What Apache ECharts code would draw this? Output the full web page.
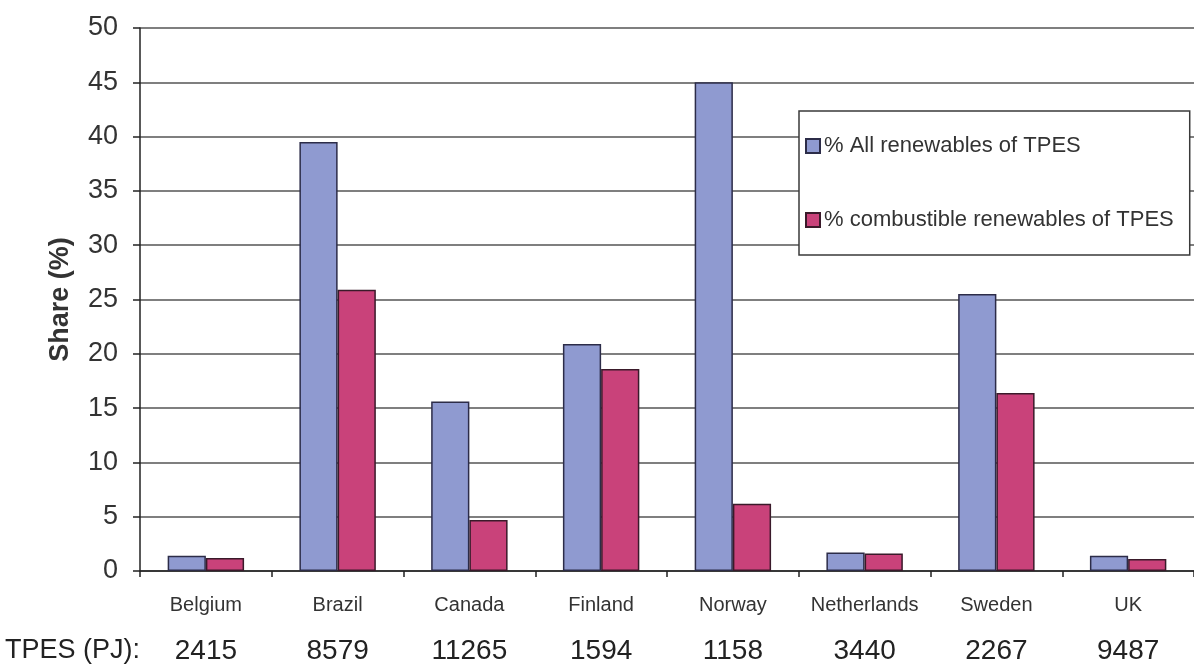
<!DOCTYPE html>
<html>
<head>
<meta charset="utf-8">
<script src="https://cdn.jsdelivr.net/npm/echarts@6/dist/echarts.min.js"></script>
<style>
  html, body { margin: 0; padding: 0; background: #fff; }
  #chart { width: 1194px; height: 666px; }
</style>
</head>
<body>
<div id="chart"></div>
<script>
// Renewable shares of total primary energy supply, by country
const categories = ['Belgium', 'Brazil', 'Canada', 'Finland', 'Norway', 'Netherlands', 'Sweden', 'UK'];
const allRenewables = [1.4, 39.5, 15.6, 20.9, 45.0, 1.7, 25.5, 1.4];
const combustibleRenewables = [1.2, 25.9, 4.7, 18.6, 6.2, 1.6, 16.4, 1.1];
const tpesPJ = ['2415', '8579', '11265', '1594', '1158', '3440', '2267', '9487'];
const yTicks = [0, 5, 10, 15, 20, 25, 30, 35, 40, 45, 50];

const seriesNames = ['% All renewables of TPES', '% combustible renewables of TPES'];
const font = '"Liberation Sans", Arial, sans-serif';

const chart = echarts.init(document.getElementById('chart'), null, { renderer: 'canvas' });

chart.setOption({
  animation: false,
  backgroundColor: '#ffffff',
  textStyle: { fontFamily: font },
  grid: { left: 140, top: 28, right: -4, bottom: 95, containLabel: false },
  legend: {
    orient: 'vertical',
    left: 799,
    top: 111,
    data: seriesNames,
    backgroundColor: '#ffffff',
    borderColor: '#3a3a3a',
    borderWidth: 1.5,
    borderRadius: 0,
    padding: [24, 16, 24, 6],
    itemGap: 52,
    itemWidth: 14,
    itemHeight: 14,
    icon: 'rect',
    textStyle: { fontSize: 22, color: '#333', fontFamily: font, padding: [0, 0, 0, -1] }
  },
  xAxis: {
    type: 'category',
    data: categories,
    boundaryGap: true,
    axisLine: { show: true, lineStyle: { color: '#222', width: 1.5 } },
    axisTick: { show: true, alignWithLabel: false, length: 6, lineStyle: { color: '#222', width: 1.5 } },
    axisLabel: {
      margin: 16,
      interval: 0,
      formatter: (v, i) => `{c|${v}}\n{t|${tpesPJ[i]}}`,
      rich: {
        c: { fontSize: 20, lineHeight: 36, color: '#333', fontFamily: font },
        t: { fontSize: 28, lineHeight: 56, color: '#222', fontFamily: font }
      }
    }
  },
  yAxis: {
    type: 'value',
    min: yTicks[0],
    max: yTicks[yTicks.length - 1],
    interval: 5,
    name: 'Share (%)',
    nameLocation: 'middle',
    nameGap: 66,
    nameRotate: 90,
    nameTextStyle: { fontSize: 27, fontWeight: 'bold', color: '#333', fontFamily: font },
    axisLine: { show: true, lineStyle: { color: '#222', width: 1.5 } },
    axisTick: { show: true, length: 7, lineStyle: { color: '#222', width: 1.5 } },
    axisLabel: { fontSize: 27, color: '#333', margin: 22, fontFamily: font },
    splitLine: { show: true, lineStyle: { color: '#555', width: 1.6 } }
  },
  series: [
    {
      name: seriesNames[0],
      type: 'bar',
      data: allRenewables,
      barGap: '0%',
      barCategoryGap: '42%',
      itemStyle: { color: '#8f9ad0', borderColor: '#2c2c48', borderWidth: 1.5 }
    },
    {
      name: seriesNames[1],
      type: 'bar',
      data: combustibleRenewables,
      barGap: '0%',
      barCategoryGap: '42%',
      itemStyle: { color: '#c9427a', borderColor: '#3a1a2a', borderWidth: 1.5 }
    }
  ],
  graphic: [
    {
      type: 'text',
      left: 5,
      top: 637,
      style: { text: 'TPES (PJ):', fontSize: 27, fill: '#222', fontFamily: font }
    }
  ]
});
</script>
</body>
</html>
